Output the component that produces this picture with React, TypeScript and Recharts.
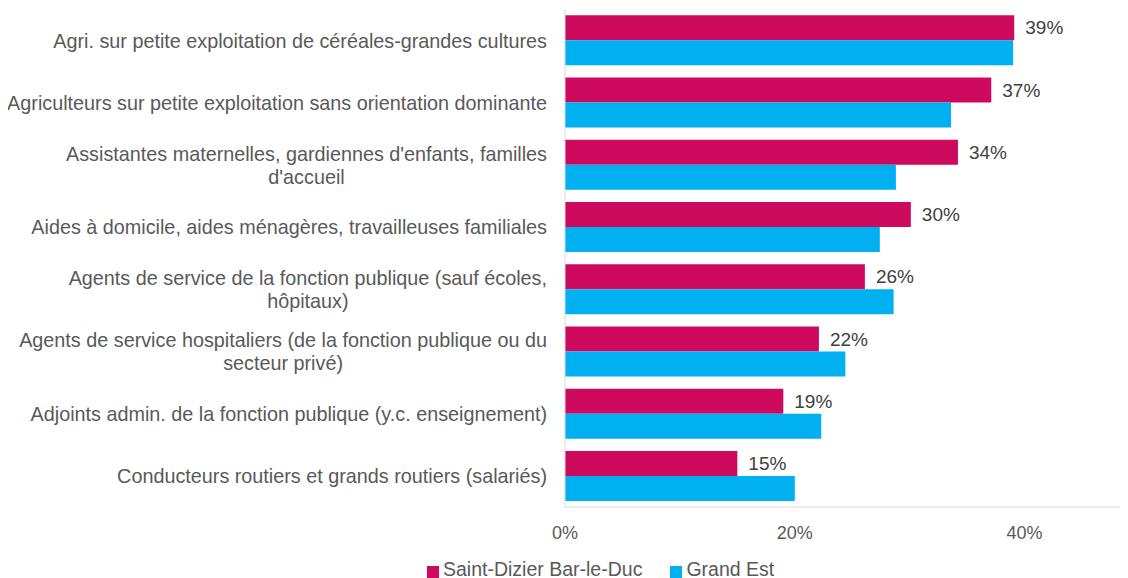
import React from "react";
import { BarChart, Bar, XAxis, YAxis, Legend, LabelList } from "recharts";

const categories = [
  "Agri. sur petite exploitation de céréales-grandes cultures",
  "Agriculteurs sur petite exploitation sans orientation dominante",
  "Assistantes maternelles, gardiennes d'enfants, familles\nd'accueil",
  "Aides à domicile, aides ménagères, travailleuses familiales",
  "Agents de service de la fonction publique (sauf écoles,\nhôpitaux)",
  "Agents de service hospitaliers (de la fonction publique ou du\nsecteur privé)",
  "Adjoints admin. de la fonction publique (y.c. enseignement)",
  "Conducteurs routiers et grands routiers (salariés)",
];
const saintDizier = [0.391, 0.371, 0.342, 0.301, 0.261, 0.221, 0.19, 0.15];
const grandEst = [0.39, 0.336, 0.288, 0.274, 0.286, 0.244, 0.223, 0.2];
const xTicks = [0, 0.2, 0.4];
const seriesNames = ["Saint-Dizier Bar-le-Duc", "Grand Est"];

const data = categories.map((name, i) => ({
  name,
  sd: saintDizier[i],
  ge: grandEst[i],
}));

const FONT = "'Liberation Sans', Arial, sans-serif";
const TEXT = "#595959";
const CAT_FS = 19.8;

let ctx: CanvasRenderingContext2D | null = null;
function measure(s: string): number {
  if (!ctx) {
    const c = document.createElement("canvas");
    ctx = c.getContext("2d");
  }
  if (!ctx) return s.length * CAT_FS * 0.5;
  ctx.font = `${CAT_FS}px 'Liberation Sans'`;
  return ctx.measureText(s).width;
}

const pct = (v: number) => `${Math.round(v * 100)}%`;

function CatTick(props: any) {
  const { x, y, payload } = props;
  const lines: string[] = String(payload.value).split("\n");
  const lh = 23;
  const right = x;
  const w0 = measure(lines[0]);
  const center = right - w0 / 2;
  const startY = y + 0.5 - ((lines.length - 1) * lh) / 2;
  return (
    <g>
      {lines.map((l, i) => (
        <text
          key={i}
          x={i === 0 ? right : center}
          y={startY + i * lh}
          dy="0.355em"
          textAnchor={i === 0 ? "end" : "middle"}
          fill={TEXT}
          fontSize={CAT_FS}
          fontFamily={FONT}
        >
          {l}
        </text>
      ))}
    </g>
  );
}

export default function App() {
  return (
    <BarChart
      width={1120}
      height={570}
      data={data}
      layout="vertical"
      margin={{ top: 1, right: 0, left: 0, bottom: 11 }}
      barCategoryGap="10%"
      barGap={0}
    >
      <XAxis
        type="number"
        domain={[0, 0.49]}
        ticks={xTicks}
        tickFormatter={pct}
        axisLine={{ stroke: "#d9d9d9" }}
        tickLine={false}
        tickMargin={13}
        height={36}
        tick={{ fill: TEXT, fontSize: 18, fontFamily: FONT }}
        allowDataOverflow
      />
      <YAxis
        type="category"
        dataKey="name"
        width={557}
        axisLine={{ stroke: "#d9d9d9" }}
        tickLine={false}
        tickSize={0}
        tickMargin={18}
        interval={0}
        tick={<CatTick />}
      />
      <Legend
        verticalAlign="bottom"
        align="left"
        iconType="square"
        iconSize={12}
        itemSorter={(item: any) => (item.dataKey === "sd" ? 0 : 1)}
        wrapperStyle={{ left: 419, top: 550, bottom: "auto", width: "auto", lineHeight: "22px" }}
        formatter={(v: string) => (
          <span style={{ color: TEXT, fontSize: 19.5, fontFamily: FONT, paddingRight: 18 }}>{v}</span>
        )}
      />
      <Bar dataKey="sd" name={seriesNames[0]} fill="#CE0A5F" isAnimationActive={false}>
        <LabelList
          dataKey="sd"
          position="right"
          offset={11}
          formatter={(v: any) => pct(Number(v))}
          fill="#404040"
          fontSize={19}
          fontFamily={FONT}
        />
      </Bar>
      <Bar dataKey="ge" name={seriesNames[1]} fill="#00B0F0" isAnimationActive={false} />
    </BarChart>
  );
}
